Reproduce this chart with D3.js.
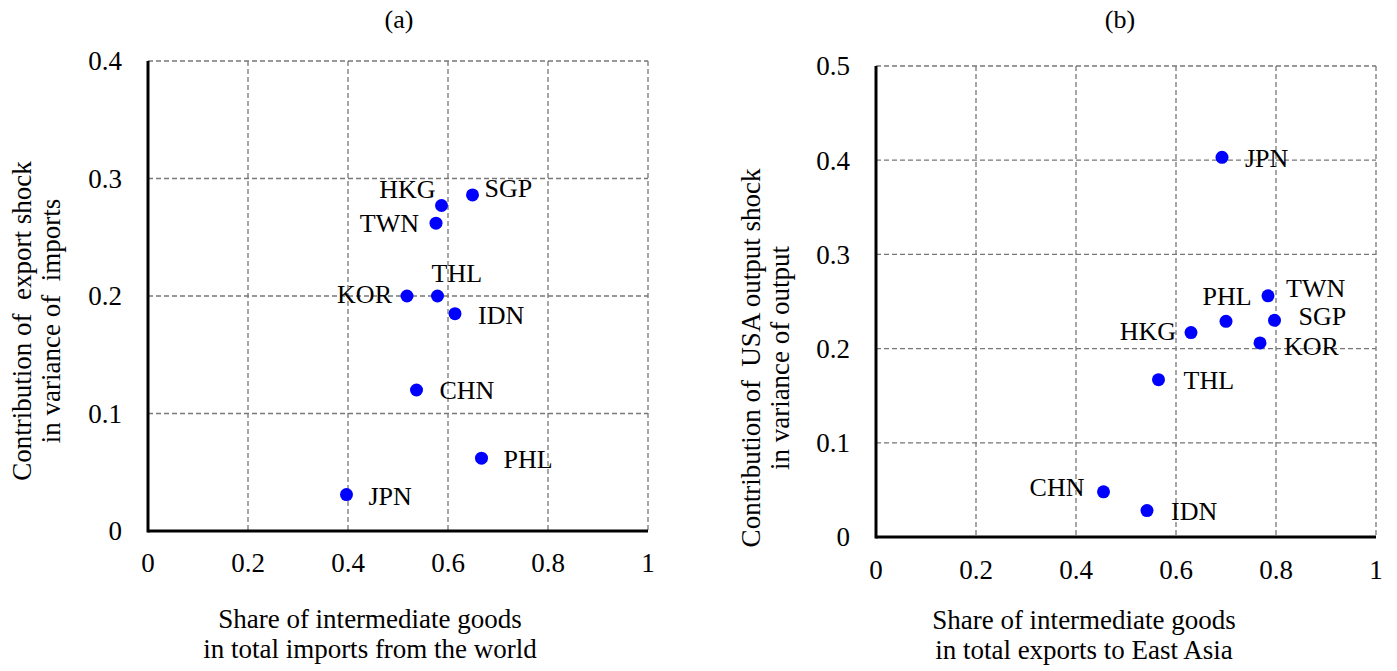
<!DOCTYPE html>
<html>
<head>
<meta charset="utf-8">
<script src="https://cdn.jsdelivr.net/npm/d3@7"></script>
<style>
  body { margin: 0; background: #fff; }
  text { font-family: "Liberation Serif", "Times New Roman", serif; fill: #000; }
</style>
</head>
<body>
<svg id="chart" width="1397" height="671"></svg>
<script>
// panel (a) data
var countriesA = ["HKG", "SGP", "TWN", "THL", "KOR", "IDN", "CHN", "PHL", "JPN"];
var shareA = [0.587, 0.649, 0.576, 0.579, 0.518, 0.614, 0.537, 0.667, 0.397];
var contribA = [0.277, 0.286, 0.262, 0.200, 0.200, 0.185, 0.120, 0.062, 0.031];

// panel (b) data
var countriesB = ["JPN", "TWN", "PHL", "SGP", "HKG", "KOR", "THL", "CHN", "IDN"];
var shareB = [0.692, 0.784, 0.700, 0.797, 0.630, 0.768, 0.565, 0.455, 0.542];
var contribB = [0.403, 0.256, 0.229, 0.230, 0.217, 0.206, 0.167, 0.048, 0.028];

// tick labels
var xTicks = [0, 0.2, 0.4, 0.6, 0.8, 1];
var yTicksA = [0, 0.1, 0.2, 0.3, 0.4];
var yTicksB = [0, 0.1, 0.2, 0.3, 0.4, 0.5];

// 라벨 위치 (dx, dy, anchor)
var labelPosA = {
  HKG: [-6, -8, "end"], SGP: [12, 2, "start"], TWN: [-17, 9, "end"],
  THL: [-6, -14, "start"], KOR: [-15, 7, "end"], IDN: [23, 10, "start"],
  CHN: [23, 9, "start"], PHL: [22, 10, "start"], JPN: [22, 10, "start"]
};
var labelPosB = {
  JPN: [23, 10, "start"], TWN: [18, 1, "start"], PHL: [1, -16, "middle"],
  SGP: [24, 5, "start"], HKG: [-15, 7, "end"], KOR: [24, 12, "start"],
  THL: [25, 9, "start"], CHN: [-19, 4, "end"], IDN: [24, 9, "start"]
};

var svg = d3.select("#chart");

function drawPanel(p) {
  var g = svg.append("g");
  var x = d3.scaleLinear().domain([0, 1]).range([p.left, p.left + 500]);
  var y = d3.scaleLinear().domain([0, p.yMax]).range([p.bottom, p.top]);

  // 격자선
  g.selectAll(".vgrid").data(xTicks.slice(1)).enter().append("line")
    .attr("x1", d => x(d)).attr("x2", d => x(d))
    .attr("y1", y(p.yMax)).attr("y2", y(0))
    .attr("stroke", "#777").attr("stroke-width", 1.3)
    .attr("stroke-dasharray", "5,3");
  g.selectAll(".hgrid").data(p.yTicks.slice(1)).enter().append("line")
    .attr("x1", x(0)).attr("x2", x(1))
    .attr("y1", d => y(d)).attr("y2", d => y(d))
    .attr("stroke", "#777").attr("stroke-width", 1.3)
    .attr("stroke-dasharray", "5,3");

  // 축
  g.append("line").attr("x1", x(0)).attr("x2", x(0))
    .attr("y1", y(p.yMax)).attr("y2", y(0) + 1.5)
    .attr("stroke", "#000").attr("stroke-width", 3);
  g.append("line").attr("x1", x(0)).attr("x2", x(1))
    .attr("y1", y(0)).attr("y2", y(0))
    .attr("stroke", "#000").attr("stroke-width", 3);

  // 눈금 라벨
  g.selectAll(".xt").data(xTicks).enter().append("text")
    .attr("x", d => x(d)).attr("y", y(0) + p.xTickOff)
    .attr("text-anchor", "middle").attr("font-size", "27px")
    .text(d => String(d));
  g.selectAll(".yt").data(p.yTicks).enter().append("text")
    .attr("x", x(0) - 26).attr("y", d => y(d)).attr("dy", "0.35em")
    .attr("text-anchor", "end").attr("font-size", "27px")
    .text(d => String(d));

  // 점
  g.selectAll(".dot").data(p.names).enter().append("circle")
    .attr("cx", (d, i) => x(p.xs[i])).attr("cy", (d, i) => y(p.ys[i]))
    .attr("r", 6.5).attr("fill", "#0000ff");

  // 국가 라벨
  g.selectAll(".lbl").data(p.names).enter().append("text")
    .attr("x", (d, i) => x(p.xs[i]) + p.pos[d][0])
    .attr("y", (d, i) => y(p.ys[i]) + p.pos[d][1])
    .attr("text-anchor", d => p.pos[d][2])
    .attr("font-size", "26px")
    .text(d => d);

  // 제목
  g.append("text").attr("x", p.titleX).attr("y", 28)
    .attr("text-anchor", "middle").attr("font-size", "26px").text(p.title);

  // x축 제목
  p.xTitle.forEach(function (t, i) {
    g.append("text").attr("x", p.xTitleX).attr("y", p.xTitleY + i * 30)
      .attr("text-anchor", "middle").attr("font-size", "27px").text(t);
  });

  // y축 제목
  p.yTitle.forEach(function (t, i) {
    g.append("text")
      .attr("transform", "translate(" + (p.yTitleX + i * 29) + "," + p.yTitleY + ") rotate(-90)")
      .attr("text-anchor", "middle").attr("font-size", "27px")
      .style("white-space", "pre").text(t);
  });
}

drawPanel({
  left: 148, top: 61, bottom: 531, yMax: 0.4, yTicks: yTicksA,
  names: countriesA, xs: shareA, ys: contribA, pos: labelPosA,
  xTickOff: 41, title: "(a)", titleX: 399,
  xTitle: ["Share of intermediate goods", "in total imports from the world"],
  xTitleX: 370, xTitleY: 628,
  yTitle: ["Contribution of  export shock", "in variance of  imports"],
  yTitleX: 31, yTitleY: 321
});

drawPanel({
  left: 876, top: 66, bottom: 537, yMax: 0.5, yTicks: yTicksB,
  names: countriesB, xs: shareB, ys: contribB, pos: labelPosB,
  xTickOff: 42, title: "(b)", titleX: 1120,
  xTitle: ["Share of intermediate goods", "in total exports to East Asia"],
  xTitleX: 1084, xTitleY: 629,
  yTitle: ["Contribution of  USA output shock", "in variance of output"],
  yTitleX: 760, yTitleY: 358
});
</script>
</body>
</html>
